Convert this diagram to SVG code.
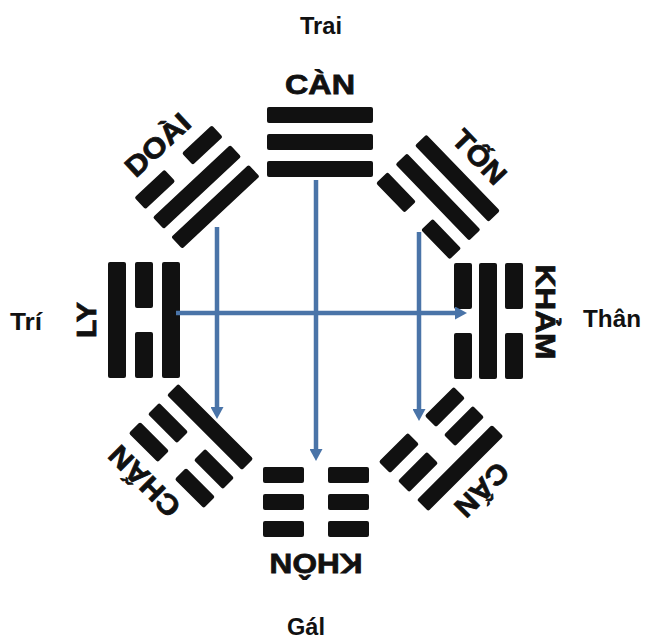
<svg xmlns="http://www.w3.org/2000/svg" xmlns:xlink="http://www.w3.org/1999/xlink" width="645" height="639" viewBox="0 0 645 639">
<style>
.bar{fill:#111}
.lbl{font-family:"Liberation Sans",Arial,sans-serif;font-weight:bold;font-size:28px;fill:#111;stroke:#111;stroke-width:0.8;text-anchor:middle}
.axis{font-family:"Liberation Sans",Arial,sans-serif;font-weight:bold;font-size:23px;fill:#111;text-anchor:middle}
.conn{stroke:#4a74a8;stroke-width:4.5;fill:none;marker-end:url(#ah)}
</style>
<defs>
<marker id="ah" markerUnits="userSpaceOnUse" markerWidth="13" markerHeight="13" refX="0" refY="6.5" orient="auto">
<path d="M0,0 L12,6.5 L0,13 z" fill="#4a74a8"/>
</marker>
<rect id="yang" class="bar" x="-53" y="-8" width="106" height="16" rx="2"/>
<g id="yin"><rect class="bar" x="-53" y="-8" width="41" height="16" rx="2"/><rect class="bar" x="12" y="-8" width="41" height="16" rx="2"/></g>
<rect id="yangL" class="bar" x="-58" y="-9" width="116" height="18" rx="2"/>
<g id="yinL"><rect class="bar" x="-58" y="-9" width="46" height="18" rx="2"/><rect class="bar" x="12" y="-9" width="46" height="18" rx="2"/></g>
</defs>
<rect width="645" height="639" fill="#fff"/>

<g id="can" transform="translate(320,142)">
<text class="lbl" x="0" y="-48" textLength="70" lengthAdjust="spacingAndGlyphs">CÀN</text>
<use xlink:href="#yang" y="-27"/><use xlink:href="#yang" y="0"/><use xlink:href="#yang" y="27"/>
</g>
<g id="ton" transform="translate(438,197) rotate(46)">
<text class="lbl" x="0" y="-48" textLength="64" lengthAdjust="spacingAndGlyphs">TỐN</text>
<use xlink:href="#yang" y="-27"/><use xlink:href="#yang" y="0"/><use xlink:href="#yin" y="27"/>
</g>
<g id="kham" transform="translate(488,321) rotate(90)">
<text class="lbl" x="-9" y="-48" textLength="95" lengthAdjust="spacingAndGlyphs">KHẢM</text>
<use xlink:href="#yinL" y="-26"/><use xlink:href="#yangL" y="0"/><use xlink:href="#yinL" y="25"/>
</g>
<g id="cankeep" transform="translate(441,449) rotate(135)">
<text class="lbl" x="0" y="-48" textLength="64" lengthAdjust="spacingAndGlyphs">CẤN</text>
<use xlink:href="#yang" y="-27"/><use xlink:href="#yin" y="0"/><use xlink:href="#yin" y="27"/>
</g>
<g id="khon" transform="translate(316,502) rotate(180)">
<text class="lbl" x="0" y="-52" textLength="93" lengthAdjust="spacingAndGlyphs">KHÔN</text>
<use xlink:href="#yin" y="-27"/><use xlink:href="#yin" y="0"/><use xlink:href="#yin" y="27"/>
</g>
<g id="chan" transform="translate(191,446) rotate(225)">
<text class="lbl" x="8" y="-48" textLength="88" lengthAdjust="spacingAndGlyphs">CHẤN</text>
<use xlink:href="#yin" y="-27"/><use xlink:href="#yin" y="0"/><use xlink:href="#yang" y="27"/>
</g>
<g id="ly" transform="translate(144,320) rotate(270)">
<text class="lbl" x="0" y="-48" textLength="36" lengthAdjust="spacingAndGlyphs">LY</text>
<use xlink:href="#yangL" y="-27"/><use xlink:href="#yinL" y="0"/><use xlink:href="#yangL" y="27"/>
</g>
<g id="doai" transform="translate(197,187) rotate(-43)">
<text class="lbl" x="0" y="-48" textLength="78" lengthAdjust="spacingAndGlyphs">DOÀI</text>
<use xlink:href="#yin" y="-27"/><use xlink:href="#yang" y="0"/><use xlink:href="#yang" y="27"/>
</g>

<g id="connectors">
<path class="conn" d="M316,180 V449"/>
<path class="conn" d="M217,227 V407"/>
<path class="conn" d="M419,232 V409"/>
<path class="conn" d="M176,313 H455"/>
</g>

<g id="axis-labels">
<text class="axis" x="321" y="34" textLength="42" lengthAdjust="spacingAndGlyphs">Trai</text>
<text class="axis" x="26" y="330" textLength="32" lengthAdjust="spacingAndGlyphs">Trí</text>
<text class="axis" x="612" y="327" textLength="58" lengthAdjust="spacingAndGlyphs">Thân</text>
<text class="axis" x="306" y="635" textLength="38" lengthAdjust="spacingAndGlyphs">Gál</text>
</g>
</svg>
